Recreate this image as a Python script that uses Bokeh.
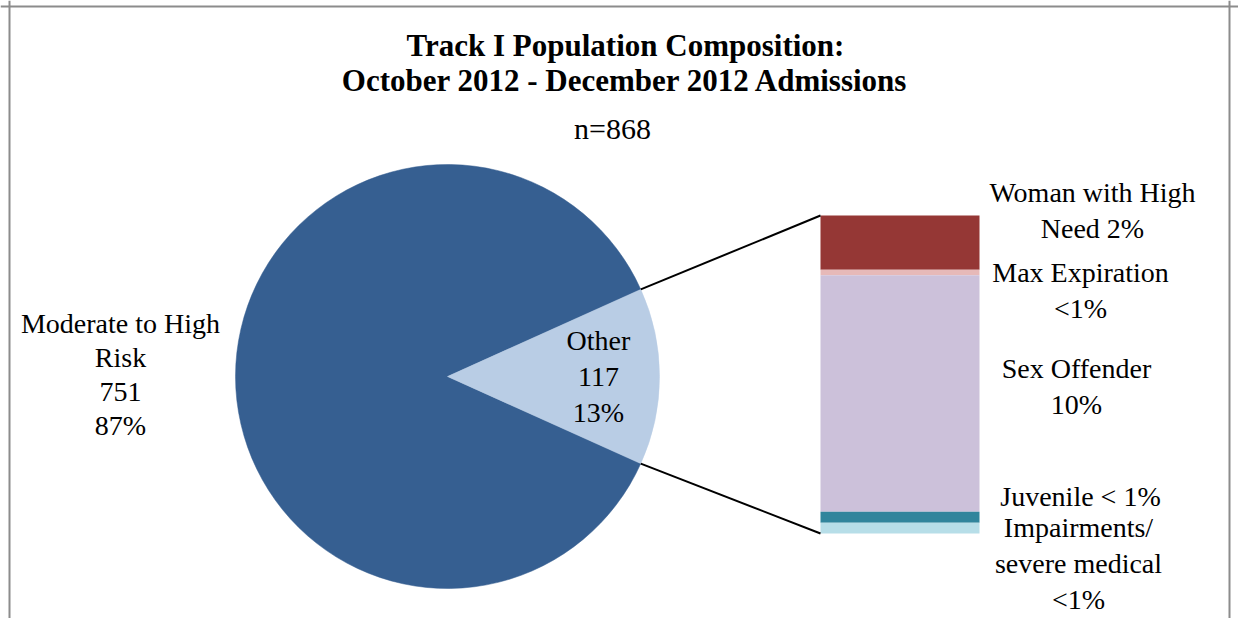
import math
from bokeh.plotting import figure
from bokeh.models import ColumnDataSource, Range1d, Span
from bokeh.core.properties import value
from bokeh.embed import file_html
from bokeh.resources import INLINE

# ---- data ----
pie_labels = ["Moderate to High\nRisk", "Other"]
pie_values = [751, 117]
pie_pcts = ["87%", "13%"]
pie_colors = ["#365F91", "#B9CDE5"]

bar_labels = ["Woman with High\nNeed 2%", "Max Expiration\n<1%", "Sex Offender\n10%",
              "Juvenile < 1%", "Impairments/\nsevere medical\n<1%"]
bar_values = [20, 2, 87, 4, 4]
bar_colors = ["#953735", "#E6B9B8", "#CCC1DA", "#31859C", "#B7DEE8"]

title_lines = ["Track I Population Composition:", "October 2012 - December 2012 Admissions"]
n_total = sum(pie_values)

# ---- layout (page pixel helpers) ----
W, H = 1238, 618
def sx(x):
    return x
def sy(y):
    return H - y

FONT = value("Liberation Serif")
p = figure(width=W, height=H, output_backend="svg", toolbar_location=None,
           x_range=Range1d(0, W), y_range=Range1d(0, H),
           x_axis_location=None, y_axis_location=None, min_border=0)
p.grid.visible = False
p.outline_line_color = None
p.background_fill_color = "white"

# frame
for loc in [sx(9), sx(1229)]:
    p.add_layout(Span(location=loc, dimension="height", line_color="#8C8C8C", line_width=2))
p.add_layout(Span(location=sy(6), dimension="width", line_color="#8C8C8C", line_width=2))

# ---- pie ----
cx, cy, r = sx(447), sy(376), 212
other_half = math.pi * pie_values[1] / n_total
starts = [other_half, -other_half]
ends = [2 * math.pi - other_half, other_half]
pie_src = ColumnDataSource(dict(start=starts, end=ends, color=pie_colors))
p.wedge(x=cx, y=cy, radius=r, start_angle="start", end_angle="end",
        fill_color="color", line_color="color", line_width=0.5, source=pie_src)

# pie labels
pie_text = [f"{l}\n{v}\n{pc}" for l, v, pc in zip(pie_labels, pie_values, pie_pcts)]
p.text(x=[sx(120)], y=[sy(374)], text=[pie_text[0]],
       text_font=FONT, text_font_size="28px", text_align="center",
       text_baseline="middle", text_line_height=1.1, text_color="#000000")
p.text(x=[sx(598)], y=[sy(376)], text=[pie_text[1]],
       text_font=FONT, text_font_size="28px", text_align="center",
       text_baseline="middle", text_line_height=1.15, text_color="#000000")

# ---- bar of pie ----
bar_left, bar_right = sx(820), sx(979)
bar_top_y, bar_h = sy(215), 318
unit = bar_h / sum(bar_values)
tops, bottoms = [], []
cur = bar_top_y
for v in bar_values:
    tops.append(cur)
    cur -= v * unit
    bottoms.append(cur)
bar_src = ColumnDataSource(dict(top=tops, bottom=bottoms, color=bar_colors))
p.quad(left=bar_left, right=bar_right, top="top", bottom="bottom",
       fill_color="color", line_color=None, source=bar_src)

# connectors
p.segment(x0=[cx + r * math.cos(other_half), cx + r * math.cos(-other_half)],
          y0=[cy + r * math.sin(other_half), cy + r * math.sin(-other_half)],
          x1=[bar_left, bar_left], y1=[tops[0], bottoms[-1]],
          line_color="black", line_width=2)

# bar labels
lab_x = [sx(1092), sx(1080), sx(1076), sx(1080), sx(1078)]
lab_y = [sy(210), sy(290), sy(386), sy(496), sy(563)]
p.text(x=lab_x, y=lab_y, text=bar_labels, text_font=FONT, text_font_size="28px",
       text_align="center", text_baseline="middle", text_line_height=1.15,
       text_color="#000000")

# ---- titles ----
p.text(x=[sx(625), sx(625)], y=[sy(45), sy(80)], text=title_lines, text_font=FONT,
       text_font_size="31px", text_font_style="bold", text_align="center",
       text_baseline="middle", text_color="#000000")
p.text(x=[sx(612)], y=[sy(128)], text=[f"n={n_total}"], text_font=FONT,
       text_font_size="30px", text_align="center", text_baseline="middle",
       text_color="#000000")

open("out.html", "w").write(file_html(p, INLINE))
